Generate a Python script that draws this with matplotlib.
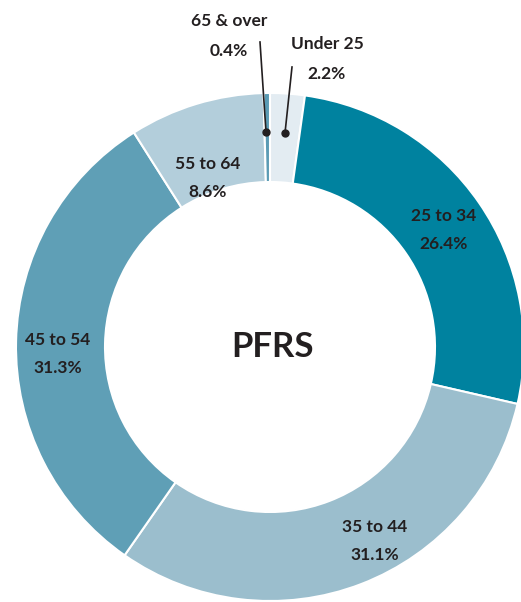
import matplotlib
matplotlib.use("Agg")
import matplotlib.pyplot as plt

groups = ['Under 25', '25 to 34', '35 to 44', '45 to 54', '55 to 64', '65 & over']
shares = [2.2, 26.4, 31.1, 31.3, 8.6, 0.4]
colors = ['#e3ecf2', '#00829f', '#9bbecd', '#5f9fb6', '#b3cedb', '#5a9bb4']
title = 'PFRS'

# label centres in pixel coords (x, y from top)
label_pos = {
    '25 to 34': (444, 230),
    '35 to 44': (375, 541),
    '45 to 54': (58, 354),
    '55 to 64': (208, 178),
}
# outside labels with leader lines: text pos, line top, dot
callouts = {
    'Under 25': ((327, 59), (292, 67), (285, 133)),
    '65 & over': ((229, 36), (260, 42), (266, 132)),
}

W, H = 521, 602
fig = plt.figure(figsize=(W / 100, H / 100), dpi=100)
ax = fig.add_axes([0, 0, 1, 1])

cx, cy = 270, H - 347
ax.pie(shares, colors=colors, startangle=90, counterclock=False,
       radius=254, center=(cx, cy),
       wedgeprops=dict(width=89, edgecolor='white', linewidth=1.5))
ax.set_xlim(0, W)
ax.set_ylim(0, H)
ax.set_aspect('equal')
ax.set_axis_off()

font = dict(family=['Lato', 'DejaVu Sans'], fontweight='bold', color='#231f20')
vals = dict(zip(groups, shares))

for g, (x, y) in label_pos.items():
    ax.text(x, H - y, f'{g}\n{vals[g]:.1f}%', ha='center', va='center',
            fontsize=12.5, linespacing=1.95, **font)

for g, ((tx, ty), (lx, ly), (dx, dy)) in callouts.items():
    ax.text(tx, H - ty, f'{g}\n{vals[g]:.1f}%', ha='center', va='center',
            fontsize=12.5, linespacing=2.1, **font)
    ax.plot([lx, dx], [H - ly, H - dy], color='#231f20', lw=1.2)
    ax.plot(dx, H - dy, 'o', color='#231f20', ms=5)

ax.text(cx + 2, cy, title, ha='center', va='center', fontsize=25, **font)

fig.savefig('out.png', dpi=100)
